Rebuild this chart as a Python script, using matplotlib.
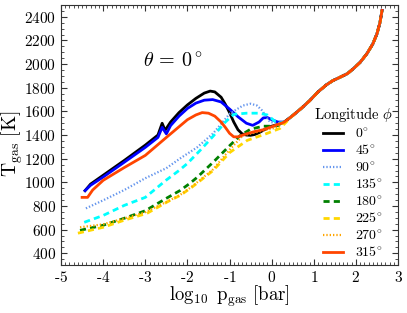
import numpy as np
import matplotlib
matplotlib.use('Agg')
import matplotlib.pyplot as plt
from matplotlib.ticker import MultipleLocator, FuncFormatter

plt.rcParams['mathtext.fontset'] = 'cm'
plt.rcParams['font.family'] = 'serif'

# shared deep part (all longitudes merge)
x_tail = [0.5, 0.7, 0.9, 1.1, 1.3, 1.45, 1.6, 1.8, 1.95, 2.1, 2.26, 2.4, 2.5, 2.57, 2.62]
T_tail = [1565, 1625, 1690, 1765, 1825, 1860, 1885, 1920, 1965, 2015, 2088, 2170, 2257, 2350, 2454]

x0 = [-4.43, -4.3, -4.0, -3.5, -3.0, -2.7, -2.6, -2.53, -2.4, -2.2, -2.0, -1.8, -1.6, -1.46, -1.35,
      -1.2, -1.1, -1.0, -0.9, -0.8, -0.7, -0.6, -0.5, -0.4, -0.3, -0.2, -0.1, 0.0, 0.15, 0.3]
T0 = [930, 985, 1060, 1185, 1315, 1400, 1500, 1440, 1510, 1590, 1655, 1710, 1755, 1772, 1765,
      1720, 1660, 1590, 1510, 1445, 1410, 1400, 1398, 1405, 1420, 1440, 1460, 1475, 1490, 1510]

x45 = [-4.43, -4.3, -4.0, -3.5, -3.0, -2.7, -2.6, -2.5, -2.4, -2.2, -2.0, -1.8, -1.6, -1.4, -1.2,
       -1.0, -0.8, -0.6, -0.45, -0.3, -0.2, -0.1, 0.0, 0.15, 0.3]
T45 = [930, 975, 1045, 1170, 1296, 1380, 1465, 1410, 1480, 1560, 1625, 1670, 1695, 1700, 1680,
       1620, 1555, 1500, 1482, 1510, 1545, 1548, 1530, 1510, 1510]

x90 = [-4.41, -4.0, -3.5, -3.0, -2.5, -2.17, -1.77, -1.39, -0.99, -0.68, -0.5, -0.35, -0.23, -0.04, 0.2, 0.3]
T90 = [780, 848, 935, 1035, 1120, 1203, 1296, 1414, 1583, 1650, 1665, 1650, 1609, 1510, 1500, 1510]

x135 = [-4.45, -4.0, -3.5, -3.0, -2.5, -2.2, -2.0, -1.7, -1.39, -1.1, -0.9, -0.6, -0.3, -0.1, 0.13, 0.3]
T135 = [662, 720, 805, 873, 1020, 1100, 1160, 1270, 1390, 1510, 1575, 1585, 1585, 1570, 1500, 1510]

x180 = [-4.55, -4.0, -3.5, -3.0, -2.5, -2.17, -1.94, -1.77, -1.39, -0.99, -0.75, -0.5, -0.2, 0.01, 0.15, 0.3]
T180 = [594, 637, 696, 760, 865, 932, 992, 1042, 1170, 1313, 1395, 1450, 1475, 1475, 1480, 1510]

x225 = [-4.6, -4.0, -3.5, -2.96, -2.41, -2.17, -1.89, -1.39, -0.99, -0.58, -0.11, 0.2, 0.4]
T225 = [570, 620, 680, 738, 848, 890, 960, 1100, 1254, 1355, 1414, 1457, 1530]

x270 = [-4.55, -4.0, -3.5, -3.0, -2.41, -2.17, -1.89, -1.39, -0.99, -0.68, -0.3, 0.13, 0.3]
T270 = [620, 645, 695, 748, 850, 895, 965, 1110, 1280, 1397, 1430, 1465, 1510]

x315 = [-4.5, -4.37, -4.25, -4.0, -3.5, -3.0, -2.5, -2.0, -1.8, -1.65, -1.5, -1.35, -1.2, -1.1, -1.0,
        -0.9, -0.8, -0.6, -0.4, -0.2, 0.0, 0.3]
T315 = [873, 873, 935, 1017, 1125, 1228, 1380, 1530, 1570, 1590, 1585, 1560, 1510, 1465, 1415,
        1385, 1385, 1410, 1430, 1445, 1470, 1510]

labels = [r'$0^{\!\circ}$', r'$45^{\!\circ}$', r'$90^{\!\circ}$', r'$135^{\!\circ}$', r'$180^{\!\circ}$',
          r'$225^{\!\circ}$', r'$270^{\!\circ}$', r'$315^{\!\circ}$']
colors = ['black', 'blue', 'cornflowerblue', 'cyan', 'green', 'gold', 'orange', 'orangered']
series = [(x0, T0), (x45, T45), (x90, T90), (x135, T135), (x180, T180),
          (x225, T225), (x270, T270), (x315, T315)]
styles = ['-', '-', ':', '--', '--', '--', ':', '-']

fig = plt.figure(figsize=(4.07, 3.13), dpi=100)
ax = fig.add_axes([0.150, 0.153, 0.828, 0.831])

for (xs, Ts), c, ls, lab in zip(series, colors, styles, labels):
    xx = np.concatenate([xs, x_tail])
    tt = np.concatenate([Ts, T_tail])
    line, = ax.plot(xx, tt, color=c, ls=ls, lw=2.0, label=lab)
    if ls == '--':
        line.set_dashes((2.2, 1.5))
    elif ls == ':':
        line.set_dashes((0.6, 0.9))
        line.set_linewidth(1.6)

ax.set_xlim(-5, 3)
ax.set_ylim(300, 2500)
ax.xaxis.set_major_locator(MultipleLocator(1))
ax.xaxis.set_minor_locator(MultipleLocator(0.1))
ax.yaxis.set_major_locator(MultipleLocator(200))
ax.yaxis.set_minor_locator(MultipleLocator(50))


def xfmt(v, p):
    if v < 0:
        return r'$\text{-}%g$' % abs(v)
    return r'$%g$' % v


ax.xaxis.set_major_formatter(FuncFormatter(xfmt))
ax.yaxis.set_major_formatter(FuncFormatter(lambda v, p: r'$%d$' % v if 400 <= v <= 2400 else ''))
ax.tick_params(which='both', direction='in', top=True, right=True, labelsize=11, color='#333333')
ax.tick_params(which='major', length=4)
ax.tick_params(which='minor', length=2)
for s in ax.spines.values():
    s.set_color('#333333')

ax.set_xlabel(r'$\log_{10}\ \mathrm{p_{gas}}\ \mathrm{[bar]}$', fontsize=13.5, labelpad=-1)
ax.set_ylabel(r'$\mathrm{T_{gas}}\ \mathrm{[K]}$', fontsize=14)
ax.yaxis.set_label_coords(-0.107, 0.465)
ax.text(-2.35, 2030, r'$\theta\,=\,0^\circ$', fontsize=14.5, ha='center', va='center')

leg = ax.legend(loc='lower right', frameon=False, fontsize=10, title=r'$\mathrm{Longitude}\ \phi$',
                title_fontsize=10.5, handlelength=1.4, handletextpad=0.9, labelspacing=0.2,
                borderaxespad=0.1, borderpad=0.3)

fig.savefig('out.png', dpi=100)
